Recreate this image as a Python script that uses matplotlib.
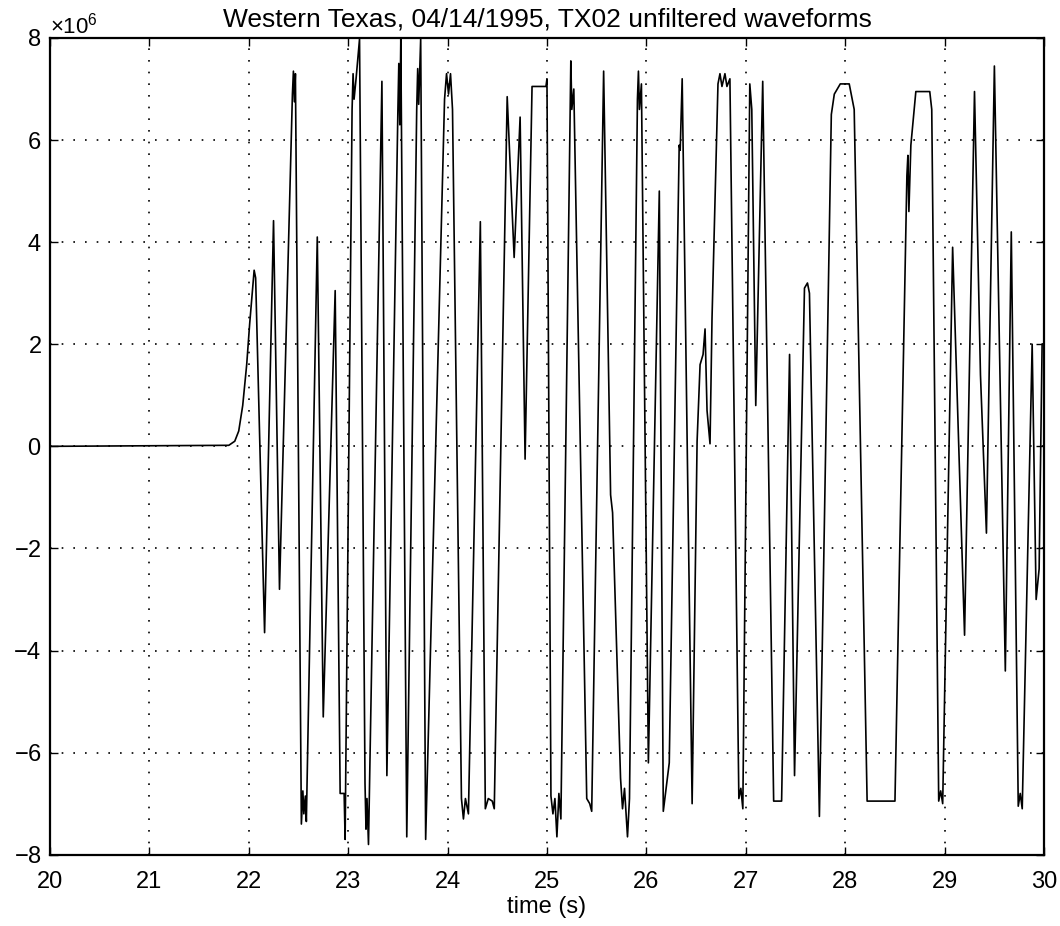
import matplotlib
matplotlib.use("Agg")
import matplotlib.pyplot as plt
from matplotlib.ticker import ScalarFormatter

# ---- data (time in s, amplitude in units of 1e6) ----
time_s = [
    20.00, 21.80, 21.86, 21.90, 21.94, 21.98, 22.01, 22.04, 22.055, 22.07,
    22.16, 22.25, 22.31, 22.44, 22.45, 22.46, 22.47, 22.53, 22.545, 22.555,
    22.57, 22.58, 22.69, 22.75, 22.87, 22.92, 22.96, 22.97, 23.04, 23.05,
    23.06, 23.08, 23.115, 23.17, 23.18, 23.19, 23.205, 23.34, 23.39, 23.50,
    23.51, 23.52, 23.53, 23.59, 23.69, 23.70, 23.71, 23.73, 23.78, 23.97,
    23.99, 24.01, 24.03, 24.05, 24.14, 24.16, 24.18, 24.21, 24.33, 24.38,
    24.41, 24.45, 24.47, 24.60, 24.67, 24.73, 24.78, 24.85, 24.99, 25.00,
    25.04, 25.06, 25.08, 25.10, 25.12, 25.14, 25.24, 25.25, 25.27, 25.40,
    25.43, 25.45, 25.57, 25.64, 25.66, 25.74, 25.76, 25.78, 25.81, 25.83,
    25.91, 25.92, 25.93, 25.95, 26.02, 26.13, 26.17, 26.23, 26.33, 26.34,
    26.36, 26.46, 26.51, 26.54, 26.57, 26.59, 26.61, 26.64, 26.66, 26.72,
    26.74, 26.76, 26.79, 26.81, 26.84, 26.93, 26.95, 26.97, 27.04, 27.06,
    27.10, 27.17, 27.28, 27.36, 27.44, 27.49, 27.59, 27.62, 27.64, 27.74,
    27.86, 27.89, 27.95, 28.04, 28.09, 28.22, 28.50, 28.62, 28.63, 28.64,
    28.66, 28.71, 28.85, 28.87, 28.94, 28.96, 28.98, 29.08, 29.20, 29.30,
    29.36, 29.42, 29.50, 29.61, 29.67, 29.74, 29.76, 29.78, 29.88, 29.92,
    29.95, 29.98, 30.00,
]
amp_1e6 = [
    0.00, 0.02, 0.10, 0.30, 0.80, 1.60, 2.40, 3.10, 3.45, 3.30,
    -3.65, 4.42, -2.80, 6.90, 7.35, 6.75, 7.30, -7.40, -6.75, -7.20,
    -6.85, -7.35, 4.10, -5.30, 3.05, -6.80, -6.80, -7.70, 6.60, 7.30,
    6.80, 7.20, 7.98, -6.60, -7.50, -6.90, -7.80, 7.15, -6.45, 6.50,
    7.50, 6.30, 7.98, -7.65, 6.60, 7.40, 6.70, 7.98, -7.70, 6.80,
    7.30, 6.90, 7.30, 6.60, -6.90, -7.30, -6.90, -7.20, 4.40, -7.10,
    -6.90, -6.95, -7.10, 6.85, 3.70, 6.45, -0.25, 7.05, 7.05, 7.20,
    -6.85, -7.20, -6.90, -7.65, -6.80, -7.30, 7.55, 6.60, 7.00, -6.90,
    -7.00, -7.15, 7.35, -0.95, -1.30, -6.50, -7.10, -6.70, -7.65, -6.90,
    6.80, 7.35, 6.60, 7.10, -6.20, 5.00, -7.15, -6.20, 5.90, 5.80,
    7.20, -7.00, 0.10, 1.60, 1.80, 2.30, 0.70, 0.05, 2.50, 7.10,
    7.30, 7.05, 7.30, 7.05, 7.20, -6.90, -6.70, -7.10, 7.10, 6.60,
    0.80, 7.15, -6.95, -6.95, 1.80, -6.45, 3.10, 3.20, 3.00, -7.25,
    6.50, 6.90, 7.10, 7.10, 6.60, -6.95, -6.95, 5.30, 5.70, 4.60,
    5.90, 6.95, 6.95, 6.60, -6.95, -6.75, -7.00, 3.90, -3.70, 6.95,
    1.40, -1.70, 7.45, -4.40, 4.20, -7.05, -6.80, -7.10, 2.00, -3.00,
    -2.40, 2.00, 2.00,
]
x_ticks = [20, 21, 22, 23, 24, 25, 26, 27, 28, 29, 30]
y_ticks_1e6 = [-8, -6, -4, -2, 0, 2, 4, 6, 8]

title = "Western Texas, 04/14/1995, TX02 unfiltered waveforms"
xlabel = "time (s)"

plt.rcParams["font.family"] = ["Liberation Sans", "DejaVu Sans"]
plt.rcParams["mathtext.fontset"] = "custom"
plt.rcParams["mathtext.rm"] = "Liberation Sans"

fig = plt.figure(figsize=(10.6, 9.26), dpi=100)
ax = fig.add_axes([0.047, 0.077, 0.938, 0.882])

amp = [a * 1e6 for a in amp_1e6]
ax.plot(time_s, amp, color="black", lw=1.2)

ax.set_xlim(20, 30)
ax.set_ylim(-8e6, 8e6)
ax.set_xticks(x_ticks)
ax.set_yticks([y * 1e6 for y in y_ticks_1e6])

fmt = ScalarFormatter(useMathText=True)
fmt.set_powerlimits((0, 0))
ax.yaxis.set_major_formatter(fmt)
ax.yaxis.get_offset_text().set_fontsize(16)

ax.grid(True, color="black", linestyle=(0, (1, 6)), lw=1.2)
ax.tick_params(direction="in", length=6, width=1, labelsize=17,
               top=True, right=True)
ax.tick_params(axis="x", pad=12)
ax.tick_params(axis="y", pad=6)
for s in ax.spines.values():
    s.set_linewidth(1.6)

ax.set_title(title, fontsize=19, pad=8)
ax.set_xlabel(xlabel, fontsize=17, labelpad=2)

fig.savefig("out.png", dpi=100)
